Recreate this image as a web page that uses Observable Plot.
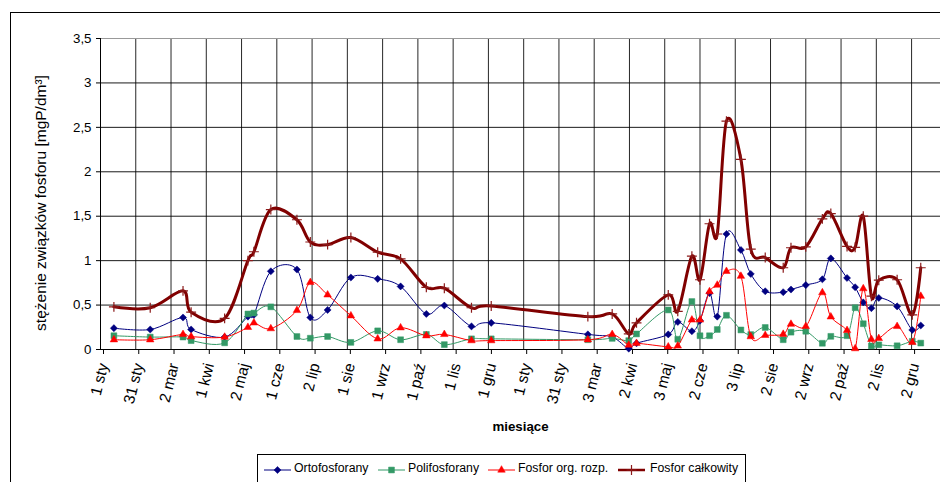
<!DOCTYPE html>
<html><head><meta charset="utf-8">
<script src="https://cdn.jsdelivr.net/npm/d3@7"></script>
<script src="https://cdn.jsdelivr.net/npm/@observablehq/plot@0.6"></script>
<style>
html,body{margin:0;padding:0;background:#fff;overflow:hidden;}
body{width:940px;height:482px;position:relative;font-family:"Liberation Sans",Arial,sans-serif;}
#frame{position:absolute;left:10px;top:12px;width:2000px;height:2000px;border:1px solid #000;box-sizing:border-box;}
#chart{position:relative;}
#legend{position:relative;margin:2px 0 0 257px;width:489px;height:40px;border:1px solid #000;box-sizing:border-box;background:#fff;font-size:12.3px;}
#legend .sw{position:absolute;top:9px;}
#legend .lb{position:absolute;top:6px;white-space:nowrap;color:#000;}
</style></head><body>
<div id="frame"></div>
<div id="chart"></div>
<div id="legend"></div>
<script>
// x tick labels (one per axis step)
const monthLabels = ["1 sty","31 sty","2 mar","1 kwi","2 maj","1 cze","2 lip","1 sie","1 wrz","1 paź","1 lis","1 gru",
  "1 sty","31 sty","3 mar","2 kwi","3 maj","2 cze","3 lip","2 sie","2 wrz","2 paź","2 lis","2 gru"];
// sampling positions, in axis steps from the first label
const sampleMonths = [0.38,1.41,2.34,2.57,3.52,4.18,4.35,4.83,5.57,5.95,6.44,7.10,7.86,8.51,9.24,9.75,10.52,11.08,
  13.82,14.51,14.98,15.20,16.10,16.37,16.77,17.00,17.27,17.49,17.75,18.16,18.44,18.85,19.36,19.58,20.00,20.47,20.71,
  21.17,21.40,21.63,21.86,22.07,22.59,23.02,23.26];
const ortofosforany = [0.24,0.225,0.36,0.225,0.14,0.37,0.39,0.88,0.90,0.36,0.445,0.81,0.795,0.71,0.40,0.495,0.26,0.30,
  0.17,0.14,0.01,0.07,0.17,0.31,0.205,0.325,0.635,0.37,1.30,1.12,0.85,0.655,0.645,0.675,0.725,0.79,1.025,
  0.805,0.70,0.53,0.465,0.58,0.485,0.22,0.27];
const polifosforany = [0.155,0.14,0.14,0.10,0.075,0.40,0.41,0.48,0.146,0.127,0.146,0.08,0.21,0.11,0.17,0.055,0.12,0.12,
  0.11,0.125,0.10,0.175,0.445,0.115,0.54,0.155,0.155,0.225,0.385,0.22,0.168,0.248,0.11,0.195,0.205,0.07,0.148,
  0.155,0.47,0.29,0.04,0.052,0.042,0.092,0.072];
const fosforOrgRozp = [0.11,0.11,0.17,0.145,0.14,0.25,0.30,0.235,0.44,0.755,0.615,0.38,0.12,0.245,0.155,0.17,0.10,0.10,
  0.11,0.17,0.05,0.07,0.03,0.04,0.333,0.333,0.652,0.725,0.88,0.825,0.145,0.16,0.172,0.285,0.26,0.64,0.368,
  0.215,0.01,0.685,0.115,0.125,0.26,0.08,0.60];
const fosforCalkowity = [0.48,0.47,0.66,0.42,0.35,1.0,1.10,1.575,1.46,1.21,1.18,1.26,1.095,1.02,0.70,0.69,0.47,0.49,
  0.37,0.40,0.175,0.30,0.615,0.43,1.05,0.785,1.415,1.30,2.57,2.14,1.13,1.035,0.92,1.145,1.155,1.47,1.53,
  1.16,1.15,1.50,0.60,0.78,0.785,0.39,0.92];
const seriesNames = ["Ortofosforany","Polifosforany","Fosfor org. rozp.","Fosfor całkowity"];
const yTicks = [0,0.5,1,1.5,2,2.5,3,3.5];
const yTitle = "stężenie związków fosforu [mgP/dm³]";
const xTitle = "miesiące";

const styles = [
  {values: ortofosforany, color: "#000080", width: 1, symbol: "diamond2", r: 3.2},
  {values: polifosforany, color: "#339966", width: 1, symbol: "square", r: 3.3},
  {values: fosforOrgRozp, color: "#FF0000", width: 1, symbol: "triangle", r: 2.8},
  {values: fosforCalkowity, color: "#800000", width: 3, symbol: "plus", r: 3.3}
];
const rows = vals => sampleMonths.map((m, i) => ({m, v: vals[i]}));

const seriesMarks = [];
styles.forEach(s => {
  const data = rows(s.values);
  seriesMarks.push(Plot.line(data, {x: "m", y: "v", stroke: s.color, strokeWidth: s.width, curve: "cardinal", tension: 0}));
  if (s.symbol === "plus") {
    seriesMarks.push(Plot.dot(data, {x: "m", y: "v", symbol: "plus", r: s.r, stroke: "#8b1a1a", strokeWidth: 1.2}));
  } else {
    seriesMarks.push(Plot.dot(data, {x: "m", y: "v", symbol: s.symbol, r: s.r, fill: s.color, stroke: s.color, strokeWidth: 0.5}));
  }
});

const chart = Plot.plot({
  width: 940, height: 452,
  marginLeft: 100, marginRight: 0, marginTop: 38, marginBottom: 103,
  x: {domain: [0, 23.82]},
  y: {domain: [0, 3.5]},
  style: {fontFamily: "'Liberation Sans', Arial, sans-serif", fontSize: "13px", background: "transparent", color: "#000", overflow: "visible"},
  marks: [
    Plot.gridX(d3.range(1, 24), {stroke: "#000", strokeOpacity: 0.85}),
    Plot.gridY([0.5, 1, 1.5, 2, 2.5, 3], {stroke: "#000", strokeOpacity: 0.9}),
    Plot.ruleY([3.5], {stroke: "#999"}),
    Plot.ruleX([0], {stroke: "#000"}),
    Plot.ruleY([0], {stroke: "#000"}),
    Plot.axisX(d3.range(24), {tickFormat: i => monthLabels[i], tickRotate: -76, tickSize: 5, tickPadding: 9, dx: 3, label: null, fontSize: 15.5}),
    Plot.axisY(yTicks, {tickFormat: d => String(d).replace(".", ","), tickSize: 4, tickPadding: 5, label: null, fontSize: 13.3}),
    ...seriesMarks,
    Plot.text([yTitle], {frameAnchor: "left", textAnchor: "middle", rotate: -90, dx: -59, dy: 9, fontSize: 15.5}),
    Plot.text([xTitle], {frameAnchor: "bottom", dy: 81, fontWeight: "bold", fontSize: 13.3})
  ]
});
document.getElementById("chart").appendChild(chart);

// legend
const legend = d3.select("#legend");
const swX = [5.7, 119.7, 229.7, 359.7];
const lbX = [36, 150, 260, 392];
styles.forEach((s, i) => {
  const svg = legend.append("svg").attr("class", "sw").attr("width", 28).attr("height", 12)
    .style("left", swX[i] + "px").style("overflow", "visible");
  svg.append("line").attr("x1", 0).attr("x2", 27).attr("y1", 6).attr("y2", 6)
    .attr("stroke", s.color).attr("stroke-width", s.width === 3 ? 2.5 : 1);
  const symMap = {diamond2: d3.symbolDiamond2, square: d3.symbolSquare, triangle: d3.symbolTriangle, plus: d3.symbolPlus};
  const p = svg.append("path").attr("transform", "translate(13.5,6)")
    .attr("d", d3.symbol(symMap[s.symbol], Math.PI * s.r * s.r)());
  if (s.symbol === "plus") p.attr("fill", "none").attr("stroke", "#8b1a1a").attr("stroke-width", 1.2);
  else p.attr("fill", s.color).attr("stroke", s.color).attr("stroke-width", 0.5);
  legend.append("span").attr("class", "lb").style("left", lbX[i] + "px").text(seriesNames[i]);
});
</script>
</body></html>
